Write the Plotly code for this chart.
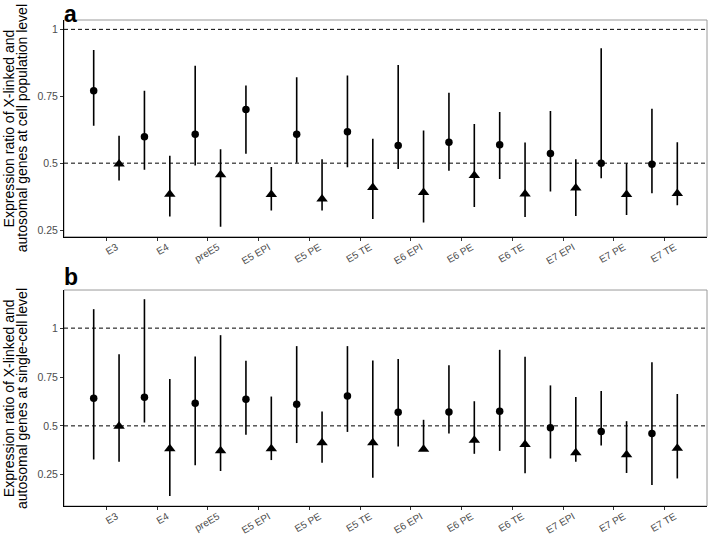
import plotly.graph_objects as go
from plotly.subplots import make_subplots

categories = ["E3", "E4", "preE5", "E5 EPI", "E5 PE", "E5 TE", "E6 EPI",
              "E6 PE", "E6 TE", "E7 EPI", "E7 PE", "E7 TE"]

# panel a: cell population level
a_circle = [0.771, 0.599, 0.608, 0.701, 0.608, 0.617, 0.566, 0.578, 0.569, 0.536, 0.500, 0.496]
a_circle_lo = [0.640, 0.475, 0.491, 0.535, 0.502, 0.485, 0.478, 0.472, 0.441, 0.394, 0.444, 0.388]
a_circle_hi = [0.923, 0.771, 0.864, 0.790, 0.821, 0.828, 0.867, 0.763, 0.691, 0.695, 0.929, 0.703]
a_tri = [0.497, 0.384, 0.457, 0.383, 0.366, 0.409, 0.390, 0.454, 0.385, 0.407, 0.383, 0.387]
a_tri_lo = [0.435, 0.301, 0.262, 0.323, 0.323, 0.291, 0.278, 0.336, 0.299, 0.303, 0.306, 0.343]
a_tri_hi = [0.602, 0.528, 0.552, 0.486, 0.515, 0.591, 0.622, 0.646, 0.577, 0.515, 0.500, 0.578]

# panel b: single-cell level
b_circle = [0.641, 0.646, 0.616, 0.636, 0.611, 0.653, 0.570, 0.571, 0.575, 0.490, 0.471, 0.461]
b_circle_lo = [0.328, 0.517, 0.298, 0.455, 0.412, 0.469, 0.395, 0.461, 0.372, 0.333, 0.400, 0.197]
b_circle_hi = [1.097, 1.148, 0.855, 0.833, 0.908, 0.908, 0.842, 0.810, 0.889, 0.707, 0.679, 0.825]
b_tri = [0.498, 0.383, 0.373, 0.383, 0.413, 0.413, 0.380, 0.427, 0.405, 0.363, 0.352, 0.386]
b_tri_lo = [0.316, 0.141, 0.269, 0.325, 0.311, 0.235, 0.380, 0.357, 0.257, 0.316, 0.259, 0.231]
b_tri_hi = [0.867, 0.740, 0.964, 0.650, 0.573, 0.835, 0.531, 0.626, 0.854, 0.648, 0.524, 0.663]

FONT = "Liberation Sans, Arial, sans-serif"
x_idx = list(range(len(categories)))

fig = make_subplots(rows=2, cols=1, vertical_spacing=0.11)


def add_series(row, vals, lo, hi, symbol, size, shift):
    fig.add_trace(
        go.Scatter(
            x=[i + shift for i in x_idx],
            y=vals,
            mode="markers",
            marker=dict(symbol=symbol, size=size, color="black"),
            error_y=dict(
                type="data",
                symmetric=False,
                array=[h - v for h, v in zip(hi, vals)],
                arrayminus=[v - l for v, l in zip(vals, lo)],
                color="black",
                thickness=1.6,
                width=0,
            ),
            showlegend=False,
        ),
        row=row, col=1,
    )


add_series(1, a_circle, a_circle_lo, a_circle_hi, "circle", 7.5, -0.25)
add_series(1, a_tri, a_tri_lo, a_tri_hi, "triangle-up", 10, 0.25)
add_series(2, b_circle, b_circle_lo, b_circle_hi, "circle", 7.5, -0.25)
add_series(2, b_tri, b_tri_lo, b_tri_hi, "triangle-up", 10, 0.25)

for r, rng in [(1, [0.225, 1.035]), (2, [0.09, 1.195])]:
    for yv in [0.5, 1.0]:
        fig.add_hline(y=yv, line=dict(color="black", width=1, dash="4px,3px"), row=r, col=1)
    fig.update_yaxes(
        range=rng, tickvals=[0.25, 0.5, 0.75, 1], ticktext=["0.25", "0.5", "0.75", "1"],
        showgrid=False, zeroline=False, showline=True, linecolor="black", linewidth=1,
        ticks="outside", ticklen=3, tickcolor="#333333", automargin=False,
        tickfont=dict(family=FONT, size=10.5, color="#4d4d4d"),
        row=r, col=1,
    )
    fig.update_xaxes(
        range=[-0.835, 11.835], tickvals=x_idx, ticktext=categories, tickangle=-30,
        showgrid=False, zeroline=False, showline=True, linecolor="black", linewidth=1,
        ticks="outside", ticklen=3, tickcolor="#333333", automargin=False,
        ticklabelshift=10, ticklabelstandoff=-3,
        tickfont=dict(family=FONT, size=10, color="#4d4d4d"),
        row=r, col=1,
    )

fig.update_yaxes(domain=[0.554, 1.0], row=1, col=1)
fig.update_yaxes(domain=[0.0, 0.4444], row=2, col=1)

# light grey panel border on top / right
for yref, xref in [("y domain", "x domain"), ("y2 domain", "x2 domain")]:
    fig.add_shape(type="rect", xref=xref, yref=yref, x0=0, x1=1, y0=0, y1=1,
                  line=dict(color="#9a9a9a", width=1), layer="below")

titles = [
    ("Expression ratio of X-linked and", "autosomal genes at cell population level", 0.777),
    ("Expression ratio of X-linked and", "autosomal genes at single-cell level", 0.222),
]
for l1, l2, yc in titles:
    for txt, xp in [(l1, -0.0855), (l2, -0.0655)]:
        fig.add_annotation(text=txt, xref="paper", yref="paper", x=xp, y=yc,
                           xanchor="center", yanchor="middle", textangle=-90,
                           showarrow=False, font=dict(family=FONT, size=14, color="black"))

for letter, yp in [("a", 1.043), ("b", 0.503)]:
    fig.add_annotation(text="<b>%s</b>" % letter, xref="paper", yref="paper", x=-0.003, y=yp,
                       xanchor="left", yanchor="top", showarrow=False,
                       font=dict(family=FONT, size=23, color="black"))

fig.update_layout(
    width=709, height=536,
    margin=dict(l=64, r=1.5, t=20, b=30),
    plot_bgcolor="white", paper_bgcolor="white",
    font=dict(family=FONT),
)

# drop the default 8px page margin so the figure sits at the window corner
fig.write_html("out.html", config={"displayModeBar": False},
               post_script="document.body.style.margin='0';")
